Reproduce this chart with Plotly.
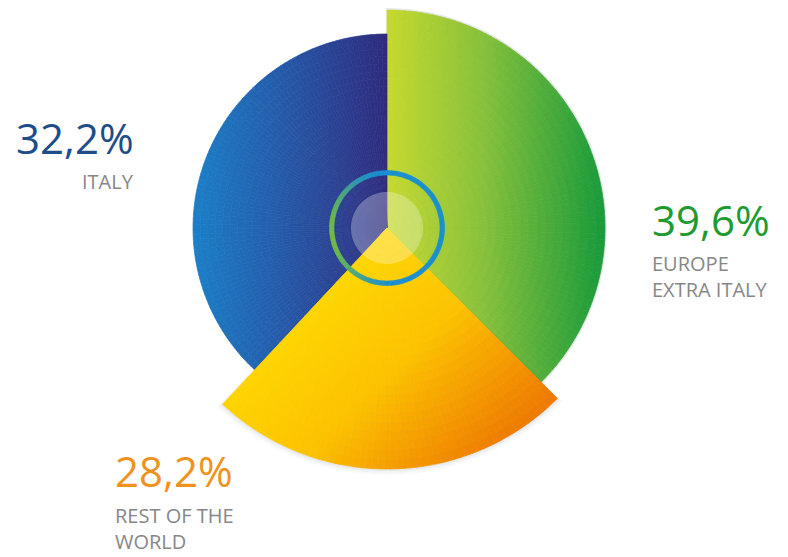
import math
import plotly.graph_objects as go

# ---------------- data ----------------
categories = ["EUROPE<br>EXTRA ITALY", "REST OF THE<br>WORLD", "ITALY"]
shares = [39.6, 28.2, 32.2]
pct_labels = ["39,6%", "28,2%", "32,2%"]
# angular span of each slice as drawn in the infographic (degrees)
slice_span_deg = [135, 88, 137]

# ---------------- style ----------------
W, H = 788, 557
PAGE_OFF = 8               # default page margin of the html body
CX, CY = 387 - PAGE_OFF, 228 - PAGE_OFF   # pie centre in figure px
R_FULL = CY                # full-circle subplots: radius limited by the top edge
R_LOW = 250                # lower-half subplot (for the long yellow slice)
SLICE_R = [218, 241, 194]  # visual radius of each slice (px)
SLICE_SUB = ["polar", "polar2", "polar"]
GRAD = [
    [(0.0, "#c6d92e"), (0.45, "#86c03b"), (1.0, "#189a3b")],
    [(0.0, "#ffd600"), (0.45, "#fcc200"), (1.0, "#ee7c00")],
    [(0.0, "#2f2b7d"), (0.5, "#2656a6"), (1.0, "#1c80c8")],
]
LABEL_COL = ["#1e9b2e", "#f0921e", "#1f4d8a"]


def h2r(h):
    h = h.lstrip("#")
    return tuple(int(h[i:i + 2], 16) for i in (0, 2, 4))


def grad(stops, t):
    t = max(0.0, min(1.0, t))
    for (t0, c0), (t1, c1) in zip(stops[:-1], stops[1:]):
        if t <= t1:
            f = (t - t0) / (t1 - t0) if t1 > t0 else 0
            a, b = h2r(c0), h2r(c1)
            return "rgb(%d,%d,%d)" % tuple(round(a[k] + (b[k] - a[k]) * f) for k in range(3))
    return "rgb(%d,%d,%d)" % h2r(stops[-1][1])


def tparam(idx, x, y):
    if idx == 0:
        return x / 218.0
    if idx == 1:
        return (x + y) / 330.0
    return -x / 194.0


fig = go.Figure()

# soft shadow behind the slices
start = 0.0
for idx, span in enumerate(slice_span_deg):
    if idx in (0, 1):
        for k, a in zip((6, 4, 2), (0.04, 0.05, 0.07)):
            fig.add_trace(go.Barpolar(
                theta=[start + span / 2], r=[SLICE_R[idx] + k], width=[span + k * 0.15],
                marker=dict(color="rgba(110,120,140,%.2f)" % a, line=dict(width=0)),
                hoverinfo="skip", showlegend=False, subplot=SLICE_SUB[idx],
            ))
    start += span

start = 0.0
for idx, span in enumerate(slice_span_deg):
    width = span
    rad = SLICE_R[idx]
    n_a = max(8, int(width / 1.5))
    n_r = 26
    th, bs, rr, ww, cc = [], [], [], [], []
    for i in range(n_a):
        t0 = start + width * i / n_a
        t1 = start + width * (i + 1) / n_a
        tc = (t0 + t1) / 2
        for j in range(n_r):
            r0 = rad * j / n_r
            r1 = rad * (j + 1) / n_r
            rc = (r0 + r1) / 2
            x = rc * math.sin(math.radians(tc))
            y = -rc * math.cos(math.radians(tc))
            th.append(tc)
            bs.append(r0)
            rr.append(r1 - r0)
            ww.append(t1 - t0)
            cc.append(grad(GRAD[idx], tparam(idx, x, y)))
    fig.add_trace(go.Barpolar(
        theta=th, base=bs, r=rr, width=ww,
        marker=dict(color=cc, line=dict(color=cc, width=0.7)),
        hoverinfo="skip", showlegend=False, subplot=SLICE_SUB[idx],
    ))
    start += width

# translucent centre disc
disc_t = [k * 2 for k in range(181)]
fig.add_trace(go.Scatterpolar(
    r=[36] * len(disc_t), theta=disc_t, mode="lines", fill="toself",
    fillcolor="rgba(255,255,255,0.28)", line=dict(width=0),
    hoverinfo="skip", showlegend=False, subplot="polar3",
))

# ring (blue -> green on the left)
rt, rb, rw, rcol = [], [], [], []
nseg = 90
for k in range(nseg):
    tc = (k + 0.5) * 360 / nseg
    d = abs(((tc - 262) + 180) % 360 - 180)
    w = math.cos(math.radians(d)) ** 1.6 if d < 90 else 0.0
    b, g = h2r("#1a8fd0"), h2r("#72ba45")
    col = "rgb(%d,%d,%d)" % tuple(round(b[m] + (g[m] - b[m]) * w) for m in range(3))
    rt.append(tc); rb.append(53); rw.append(360 / nseg); rcol.append(col)
fig.add_trace(go.Barpolar(
    theta=rt, base=rb, r=[4.5] * nseg, width=rw,
    marker=dict(color=rcol, line=dict(color=rcol, width=0.6)),
    hoverinfo="skip", showlegend=False, subplot="polar3",
))


def polar_cfg(rmax, lower_only=False):
    if lower_only:
        dom_y = [(H - CY - rmax) / H, (H - CY) / H]
        sector = [180, 360]
    else:
        dom_y = [(H - CY - rmax) / H, (H - CY + rmax) / H]
        sector = [0, 360]
    return dict(
        domain=dict(x=[(CX - rmax) / W, (CX + rmax) / W], y=dom_y),
        sector=sector,
        bgcolor="rgba(0,0,0,0)",
        hole=0,
        radialaxis=dict(range=[0, rmax], visible=False, showgrid=False),
        angularaxis=dict(visible=False, rotation=90, direction="clockwise",
                         showgrid=False),
        barmode="overlay",
    )


fig.update_layout(
    width=W, height=H,
    margin=dict(l=0, r=0, t=0, b=0),
    paper_bgcolor="white", plot_bgcolor="white",
    showlegend=False,
    polar=polar_cfg(R_FULL),
    polar2=polar_cfg(R_LOW, lower_only=True),
    polar3=polar_cfg(R_FULL),
)

FONT = "Open Sans"
# label positions (figure px): x, y of percentage, y of name block centre, anchor
pos = [
    (642, 211, 268, "left"),
    (105, 462, 520, "left"),
    (128, 129, 174, "right"),
]
for idx in range(3):
    x, yp, yn, anc = pos[idx]
    fig.add_annotation(
        x=x / W, y=1 - yp / H, xref="paper", yref="paper",
        xanchor=anc, yanchor="middle", showarrow=False,
        text=pct_labels[idx], align=anc,
        font=dict(family=FONT, size=42, color=LABEL_COL[idx]),
    )
    fig.add_annotation(
        x=x / W, y=1 - yn / H, xref="paper", yref="paper",
        xanchor=anc, yanchor="middle", showarrow=False,
        text=categories[idx], align=anc,
        font=dict(family=FONT, size=20, color="#878787"),
    )

fig.write_html("out.html")
